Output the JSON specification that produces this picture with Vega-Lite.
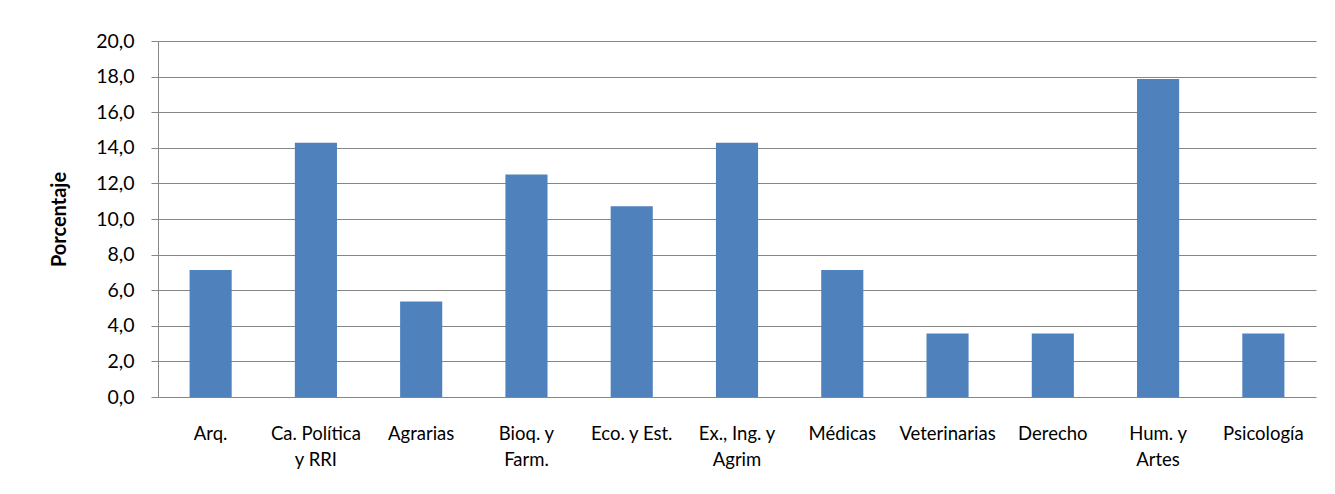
{
  "$schema": "https://vega.github.io/schema/vega-lite/v6.json",
  "autosize": "none",
  "width": 1158,
  "height": 356,
  "padding": {"left": 158, "top": 41, "right": 19, "bottom": 97},
  "background": "white",
  "data": {
    "values": [
      {"area": "Arq.", "pct": 7.14},
      {"area": "Ca. Política|y RRI", "pct": 14.29},
      {"area": "Agrarias", "pct": 5.36},
      {"area": "Bioq. y|Farm.", "pct": 12.5},
      {"area": "Eco. y Est.", "pct": 10.71},
      {"area": "Ex., Ing. y|Agrim", "pct": 14.29},
      {"area": "Médicas", "pct": 7.14},
      {"area": "Veterinarias", "pct": 3.57},
      {"area": "Derecho", "pct": 3.57},
      {"area": "Hum. y|Artes", "pct": 17.86},
      {"area": "Psicología", "pct": 3.57}
    ]
  },
  "mark": {"type": "bar", "color": "#4F81BD"},
  "encoding": {
    "x": {
      "field": "area",
      "type": "nominal",
      "sort": null,
      "scale": {"paddingInner": 0.6, "paddingOuter": 0.3},
      "axis": {
        "title": null,
        "labelAngle": 0,
        "ticks": false,
        "domain": false,
        "labelExpr": "split(datum.label, '|')",
        "labelLineHeight": 26,
        "labelPadding": 27,
        "labelFont": "Lato",
        "labelFontSize": 18.5,
        "labelColor": "#000000"
      }
    },
    "y": {
      "field": "pct",
      "type": "quantitative",
      "scale": {"domain": [0, 20], "nice": false},
      "axis": {
        "title": "Porcentaje",
        "titleFont": "Lato",
        "titleFontSize": 20,
        "titleFontWeight": "bold",
        "titleColor": "#000000",
        "titlePadding": 26,
        "values": [0, 2, 4, 6, 8, 10, 12, 14, 16, 18, 20],
        "labelExpr": "replace(format(datum.value, '.1f'), '.', ',')",
        "labelFont": "Lato",
        "labelFontSize": 19.5,
        "labelColor": "#000000",
        "labelPadding": 17,
        "tickSize": 7,
        "tickColor": "#868686",
        "domainColor": "#868686",
        "gridColor": "#868686",
        "grid": true
      }
    }
  },
  "config": {"view": {"stroke": null}}
}
